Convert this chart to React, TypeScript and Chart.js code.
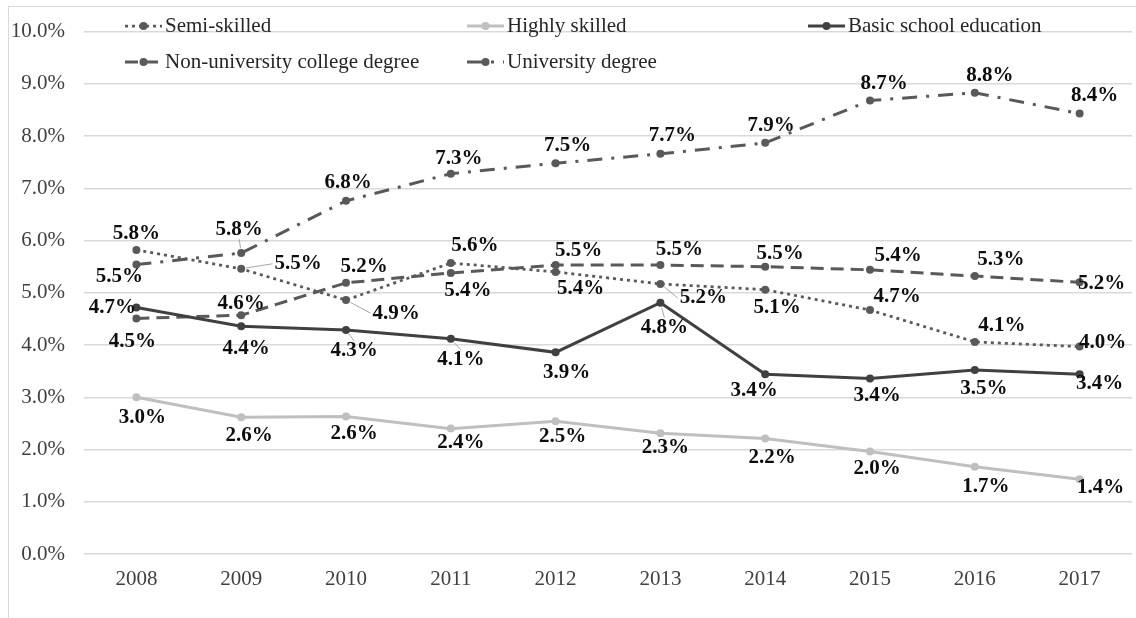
import { useEffect, useRef } from "react";
import { Chart, registerables } from "chart.js";
import type { Plugin } from "chart.js";

Chart.register(...registerables);

const YEARS = ["2008", "2009", "2010", "2011", "2012", "2013", "2014", "2015", "2016", "2017"];
const SEMI_SKILLED = [5.82, 5.46, 4.86, 5.57, 5.4, 5.17, 5.06, 4.67, 4.06, 3.97];
const HIGHLY_SKILLED = [3.0, 2.62, 2.63, 2.4, 2.54, 2.31, 2.21, 1.96, 1.67, 1.43];
const BASIC_SCHOOL = [4.72, 4.36, 4.29, 4.12, 3.86, 4.81, 3.44, 3.36, 3.52, 3.44];
const NON_UNIVERSITY = [4.51, 4.57, 5.19, 5.38, 5.53, 5.53, 5.5, 5.44, 5.32, 5.2];
const UNIVERSITY = [5.54, 5.76, 6.76, 7.28, 7.48, 7.66, 7.87, 8.68, 8.83, 8.43];
const Y_MIN = 0;
const Y_MAX = 10;
const Y_STEP = 1;

const FONT = '"Liberation Serif", "Times New Roman", serif';

// where each value label sits, relative to its point (dx, dy)
const LABEL_OFFSETS = [
  [[0, -16], [57, -5], [50, 13], [24, -17], [25, 17], [43, 14], [12, 18], [27, -13], [27, -16], [23, -4]],
  [[6, 20], [8, 18], [8, 17], [10, 14], [7, 15], [5, 14], [7, 19], [7, 17], [11, 20], [21, 8]],
  [[-24, 0], [5, 22], [8, 21], [10, 21], [11, 20], [4, 25], [-11, 16], [7, 17], [9, 18], [20, 9]],
  [[-4, 23], [0, -12], [18, -16], [17, 18], [23, -15], [19, -16], [15, -13], [28, -14], [26, -17], [22, 1]],
  [[-17, 12], [-2, -24], [2, -18], [8, -15], [12, -18], [12, -18], [6, -17], [14, -17], [15, -17], [15, -18]],
];
// labels joined to their point by a thin leader line ("series:point")
const LEADERS = ["0:1", "0:2", "0:5", "2:2", "2:3", "2:5", "4:1"];

const LEGEND_SLOTS = [
  [125, 26],
  [467, 26],
  [808, 26],
  [125, 62],
  [467, 62],
];

const valueLabels: Plugin<"line"> = {
  id: "valueLabels",
  afterDatasetsDraw(chart) {
    const { ctx } = chart;
    ctx.save();
    ctx.font = `bold 21px ${FONT}`;
    ctx.textAlign = "center";
    ctx.textBaseline = "middle";
    chart.data.datasets.forEach((ds, di) => {
      const meta = chart.getDatasetMeta(di);
      meta.data.forEach((pt, i) => {
        const [dx, dy] = LABEL_OFFSETS[di][i];
        const cx = pt.x + dx;
        const cy = pt.y + dy;
        const text = (ds.data[i] as number).toFixed(1) + "%";
        if (LEADERS.includes(`${di}:${i}`)) {
          const w = ctx.measureText(text).width;
          let ex: number, ey: number;
          if (Math.abs(dx) > Math.abs(dy)) {
            ex = cx - w / 2 - 2;
            ey = cy;
          } else {
            ex = cx;
            ey = cy + (dy < 0 ? 10 : -10);
          }
          const len = Math.hypot(ex - pt.x, ey - pt.y) || 1;
          ctx.beginPath();
          ctx.setLineDash([]);
          ctx.strokeStyle = "#a6a6a6";
          ctx.lineWidth = 1;
          ctx.moveTo(pt.x + ((ex - pt.x) / len) * 5, pt.y + ((ey - pt.y) / len) * 5);
          ctx.lineTo(ex, ey);
          ctx.stroke();
        }
        ctx.fillStyle = "#0d0d0d";
        ctx.fillText(text, cx, cy);
      });
    });
    ctx.restore();
  },
};

const legendRows: Plugin<"line"> = {
  id: "legendRows",
  afterDraw(chart) {
    const { ctx } = chart;
    ctx.save();
    chart.data.datasets.forEach((ds: any, di) => {
      const [x, y] = LEGEND_SLOTS[di];
      ctx.beginPath();
      ctx.setLineDash(ds.borderDash || []);
      ctx.strokeStyle = ds.borderColor;
      ctx.lineWidth = ds.borderWidth;
      ctx.moveTo(x, y);
      ctx.lineTo(x + 37, y);
      ctx.stroke();
      ctx.setLineDash([]);
      ctx.beginPath();
      ctx.fillStyle = ds.pointBackgroundColor;
      ctx.arc(x + 18.5, y, 4, 0, Math.PI * 2);
      ctx.fill();
      ctx.font = `21px ${FONT}`;
      ctx.fillStyle = "#262626";
      ctx.textAlign = "left";
      ctx.textBaseline = "middle";
      ctx.fillText(ds.label, x + 40, y);
    });
    ctx.restore();
  },
};

export default function App() {
  const canvasRef = useRef<HTMLCanvasElement>(null);
  const chartRef = useRef<Chart | null>(null);

  useEffect(() => {
    if (!canvasRef.current) return;
    if (chartRef.current) chartRef.current.destroy();

    const series = (label: string, data: number[], color: string, width: number, dash: number[]) => ({
      label,
      data,
      borderColor: color,
      borderWidth: width,
      borderDash: dash,
      pointRadius: 4,
      pointBorderWidth: 0,
      pointBackgroundColor: color,
      tension: 0,
    });

    chartRef.current = new Chart(canvasRef.current, {
      type: "line",
      data: {
        labels: YEARS,
        datasets: [
          series("Semi-skilled", SEMI_SKILLED, "#595959", 2.75, [3, 4]),
          series("Highly skilled", HIGHLY_SKILLED, "#bfbfbf", 3, []),
          series("Basic school education", BASIC_SCHOOL, "#404040", 3, []),
          series("Non-university college degree", NON_UNIVERSITY, "#595959", 3, [13, 7]),
          series("University degree", UNIVERSITY, "#595959", 3, [15, 9, 3, 9]),
        ],
      },
      options: {
        responsive: false,
        animation: false,
        layout: { padding: { top: 29, left: 0, right: 0, bottom: 0 } },
        plugins: {
          legend: { display: false },
          tooltip: { enabled: false },
        },
        scales: {
          x: {
            offset: true,
            grid: { display: false, drawTicks: false },
            border: { display: false },
            ticks: { color: "#404040", font: { family: FONT, size: 21 }, padding: 13 },
            afterFit: (s) => {
              s.height = 64;
            },
          },
          y: {
            min: Y_MIN,
            max: Y_MAX,
            grid: { color: "#d9d9d9", lineWidth: 1.5, drawTicks: false },
            border: { display: false },
            ticks: {
              stepSize: Y_STEP,
              color: "#404040",
              font: { family: FONT, size: 21 },
              padding: 19,
              callback: (v) => Number(v).toFixed(1) + "%",
            },
            afterFit: (s) => {
              s.width = 84;
            },
          },
        },
      },
      plugins: [valueLabels, legendRows],
    });

    return () => {
      chartRef.current?.destroy();
      chartRef.current = null;
    };
  }, []);

  return (
    <div style={{ position: "fixed", left: 0, top: 0, width: 1136, height: 618, background: "#fff", overflow: "hidden" }}>
      <div
        style={{
          position: "absolute",
          left: 8,
          top: 6,
          width: 1140,
          height: 620,
          borderLeft: "1px solid #d9d9d9",
          borderTop: "1px solid #d9d9d9",
        }}
      />
      <canvas ref={canvasRef} width={1136} height={618} style={{ position: "absolute", left: 0, top: 0 }} />
    </div>
  );
}
